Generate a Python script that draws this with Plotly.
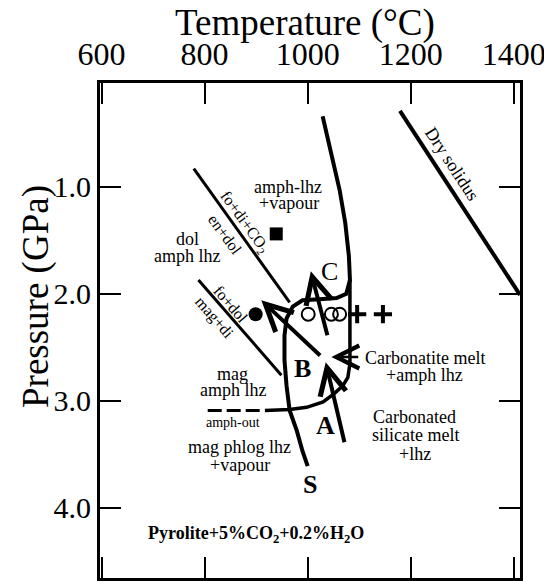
import plotly.graph_objects as go

FONT = "Liberation Serif, Times New Roman, serif"

# ---- axes ----
temp_ticks = [600, 800, 1000, 1200, 1400]
pressure_ticks = [1.0, 2.0, 3.0, 4.0]
temp_range = [597, 1412]
pressure_range = [4.655, 0.03]

# ---- phase boundaries (T in degC, P in GPa) ----
dry_solidus_T = [1179, 1412]
dry_solidus_P = [0.29, 2.01]

fo_di_T = [779, 965]
fo_di_P = [0.83, 2.08]

fo_dol_T = [788, 949]
fo_dol_P = [1.87, 2.76]

solidus_T = [1000, 990, 979, 965, 959, 955, 955, 959, 971, 990, 1023, 1056, 1075, 1082, 1080, 1073, 1062, 1046, 1029]
solidus_P = [3.61, 3.47, 3.28, 3.09, 2.86, 2.62, 2.39, 2.23, 2.12, 2.06, 2.05, 2.04, 2.00, 1.87, 1.65, 1.34, 1.03, 0.68, 0.34]

carb_T = [1082, 1082, 1082, 1078, 1068, 1052, 1030, 998, 965, 917]
carb_P = [1.87, 2.25, 2.65, 2.78, 2.86, 2.93, 3.01, 3.06, 3.08, 3.09]

amph_out_T = [806, 913]
amph_out_P = [3.09, 3.09]

# ---- experimental points ----
square_T, square_P = [939], [1.44]
dot_T, dot_P = [899], [2.19]
open_T, open_P = [1001, 1046, 1062], [2.19, 2.19, 2.19]
plus_T, plus_P = [1096, 1146], [2.19, 2.19]

# ---- arrows: (tail T, tail P, tip T, tip P, width) ----
arrow_tail_T = [1072, 1101, 1027, 1039]
arrow_tail_P = [3.40, 2.59, 2.59, 2.40]
arrow_tip_T = [1035, 1046, 910, 1006]
arrow_tip_P = [2.64, 2.59, 2.06, 1.79]
arrow_width = [4, 2.5, 4, 4]

# ---- labels ----
label_text = ["amph-lhz", "+vapour", "dol", "amph lhz",
              "Carbonatite melt", "+amph lhz",
              "Carbonated", "silicate melt", "+lhz",
              "mag", "amph lhz", "amph-out", "mag phlog lhz", "+vapour"]
label_T = [962, 964, 766, 766, 1227, 1227, 1208, 1209, 1208, 854, 856, 856, 868, 868]
label_P = [1.00, 1.15, 1.49, 1.65, 2.60, 2.76, 3.15, 3.32, 3.50, 2.75, 2.90, 3.20, 3.43, 3.60]
label_size = [18, 18, 18, 18, 18, 18, 18, 18, 18, 18, 18, 14, 18, 18]

rot_text = ["Dry solidus", "fo+di+CO<sub>2</sub>", "en+dol", "fo+dol", "mag+di"]
rot_T = [1280, 878, 839, 851, 819]
rot_P = [0.79, 1.33, 1.45, 2.10, 2.23]
rot_angle = [57, 54, 54, 49, 49]
rot_size = [18, 16, 16, 16, 16]

letter_text = ["C", "<b>B</b>", "<b>A</b>", "<b>S</b>"]
letter_T = [1042, 990, 1035, 1004]
letter_P = [1.79, 2.70, 3.23, 3.78]

title_text = "<b>Pyrolite+5%CO<sub>2</sub>+0.2%H<sub>2</sub>O</b>"
title_T, title_P = 900, 4.25

x_title = "Temperature (°C)"
y_title = "Pressure (GPa)"

fig = go.Figure()

def line(x, y, w, dash="solid"):
    fig.add_trace(go.Scatter(x=x, y=y, mode="lines", showlegend=False, hoverinfo="skip",
                             line=dict(color="black", width=w, dash=dash)))

line(dry_solidus_T, dry_solidus_P, 4)
line(fo_di_T, fo_di_P, 3)
line(fo_dol_T, fo_dol_P, 3)
line(solidus_T, solidus_P, 4)
line(carb_T, carb_P, 3.5)
line(amph_out_T, amph_out_P, 3, "14px,5px")

fig.add_trace(go.Scatter(x=square_T, y=square_P, mode="markers", showlegend=False,
                         marker=dict(symbol="square", size=13, color="black")))
fig.add_trace(go.Scatter(x=dot_T, y=dot_P, mode="markers", showlegend=False,
                         marker=dict(symbol="circle", size=14, color="black")))
fig.add_trace(go.Scatter(x=open_T, y=open_P, mode="markers", showlegend=False,
                         marker=dict(symbol="circle-open", size=13, color="black",
                                     line=dict(width=2, color="black"))))
fig.add_trace(go.Scatter(x=plus_T, y=plus_P, mode="markers", showlegend=False,
                         marker=dict(symbol="cross-thin", size=13,
                                     line=dict(width=4, color="black"))))

for tx, tp, hx, hp, w in zip(arrow_tail_T, arrow_tail_P, arrow_tip_T, arrow_tip_P, arrow_width):
    fig.add_annotation(x=hx, y=hp, ax=tx, ay=tp, xref="x", yref="y", axref="x", ayref="y",
                       text="", showarrow=True, arrowhead=5, arrowsize=1.3 if w > 3 else 1.8,
                       arrowwidth=w, arrowcolor="black", standoff=0, startstandoff=0)

for t, x, y, s in zip(label_text, label_T, label_P, label_size):
    fig.add_annotation(x=x, y=y, text=t, showarrow=False, xref="x", yref="y",
                       font=dict(family=FONT, size=s, color="black"))

for t, x, y, a, s in zip(rot_text, rot_T, rot_P, rot_angle, rot_size):
    fig.add_annotation(x=x, y=y, text=t, showarrow=False, textangle=a, xref="x", yref="y",
                       font=dict(family=FONT, size=s, color="black"))

for t, x, y in zip(letter_text, letter_T, letter_P):
    fig.add_annotation(x=x, y=y, text=t, showarrow=False, xref="x", yref="y",
                       font=dict(family=FONT, size=26, color="black"))

fig.add_annotation(x=title_T, y=title_P, text=title_text, showarrow=False, xref="x", yref="y",
                   font=dict(family=FONT, size=18, color="black"))

# axis titles
fig.add_annotation(x=0.488, y=1.121, xref="paper", yref="paper", text=x_title, showarrow=False,
                   xanchor="center", yanchor="middle", font=dict(family=FONT, size=37, color="black"))
fig.add_annotation(x=-0.152, y=0.568, xref="paper", yref="paper", text=y_title, showarrow=False,
                   textangle=-90, xanchor="center", yanchor="middle",
                   font=dict(family=FONT, size=37, color="black"))

axis_common = dict(showline=True, linewidth=3, linecolor="black", mirror="allticks",
                   ticks="inside", ticklen=21, tickwidth=2, tickcolor="black",
                   showgrid=False, zeroline=False, automargin=False)

fig.update_layout(
    width=552, height=581,
    margin=dict(l=92, r=40, t=75, b=11),
    paper_bgcolor="white", plot_bgcolor="white",
    font=dict(family=FONT, color="black"),
    xaxis=dict(range=temp_range, side="top", tickvals=temp_ticks,
               tickfont=dict(family=FONT, size=32), ticklabelstandoff=2,
               **axis_common),
    yaxis=dict(range=pressure_range, tickvals=pressure_ticks, tickformat=".1f",
               tickfont=dict(family=FONT, size=30),
               **axis_common),
)

fig.write_html("out.html")
